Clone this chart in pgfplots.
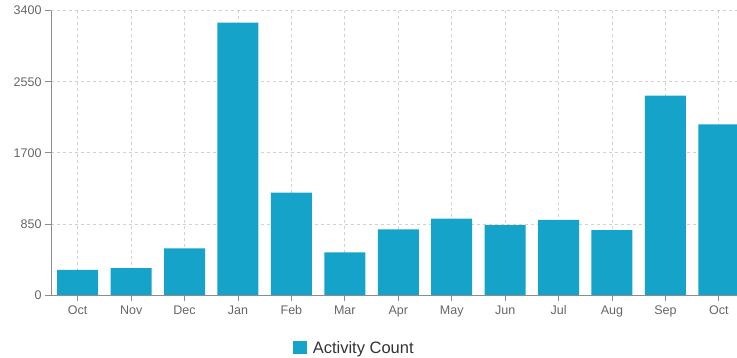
\documentclass[border=0pt]{standalone}
\usepackage{pgfplots}
\pgfplotsset{compat=1.18}
\usepackage{fontspec}
\setmainfont{Liberation Sans}
\definecolor{barc}{HTML}{16A3C9}
\definecolor{txtc}{HTML}{666666}
\definecolor{legc}{HTML}{333333}
\definecolor{axc}{HTML}{8C8C8C}
\definecolor{gridc}{HTML}{D0D0D0}
\begin{document}
\begin{tikzpicture}[x=1pt,y=1pt]
\useasboundingbox (0,0) rectangle (737,358);
\begin{axis}[
  at={(51pt,63pt)}, anchor=south west,
  scale only axis, width=686pt, height=284.3pt,
  xmin=-0.5, xmax=12.34, ymin=0, ymax=3400,
  ytick={0,850,1700,2550,3400},
  xtick={0,...,12},
  xticklabels={Oct,Nov,Dec,Jan,Feb,Mar,Apr,May,Jun,Jul,Aug,Sep,Oct},
  axis x line*=bottom, axis y line*=left,
  axis line style={axc, line width=0.8pt},
  tick style={axc, line width=0.8pt},
  tick align=outside, major tick length=6pt,
  grid=major,
  major grid style={gridc, dashed, line width=0.7pt},
  tick label style={font=\fontsize{12.5}{14}\selectfont, text=txtc},
  /pgf/number format/assume math mode=true,
  /pgf/number format/1000 sep={},
  xticklabel style={yshift=-1pt, text height=9pt, text depth=3pt},
  ybar, bar width=41pt,
  legend style={at={(0.442,-0.186)}, anchor=center, draw=none, fill=none,
    font=\fontsize{16.5}{18}\selectfont, text=legc, inner sep=0pt,
    /tikz/every odd column/.append style={column sep=4pt}},
  legend image code/.code={\fill[barc] (0pt,-6.5pt) rectangle (14pt,6.5pt);},
  clip=true,
]
\addplot[fill=barc, draw=none] coordinates {
(0,300) (1,320) (2,558) (3,3257) (4,1224) (5,511) (6,786) (7,913) (8,837) (9,897) (10,777) (11,2384) (12,2041)
};
\addlegendentry{Activity Count}
\end{axis}
\end{tikzpicture}
\end{document}
